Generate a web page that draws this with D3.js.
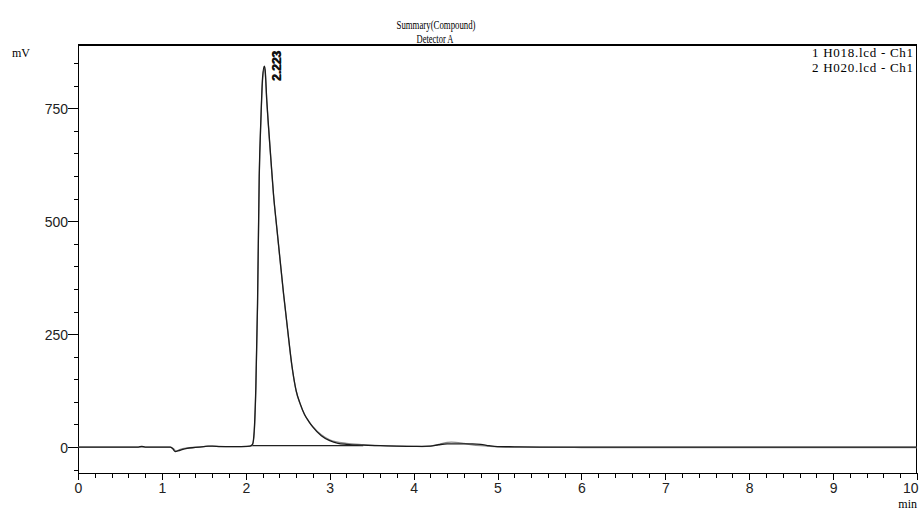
<!DOCTYPE html>
<html>
<head>
  <meta charset="utf-8">
  <title>Summary(Compound)</title>
  <script src="https://d3js.org/d3.v7.min.js"></script>
  <style>
    body { margin: 0; background: #fff; }
    .serif { font-family: "Liberation Serif", "Times New Roman", serif; fill: #000; }
    .tick-label { font-family: "Liberation Sans", Arial, sans-serif; font-size: 14px; fill: #222; }
    .frame { fill: none; stroke: #000; shape-rendering: crispEdges; }
    .trace { fill: none; stroke-width: 1.3px; stroke-linejoin: round; }
  </style>
</head>
<body>
  <script>
    // retention time (min) and signal (mV)
    var time1 = [0, 0.5, 0.72, 0.76, 0.8, 1.0, 1.1, 1.13, 1.16, 1.2, 1.25, 1.3, 1.4, 1.5, 1.55, 1.6, 1.7, 1.9, 2.0, 2.05,
                 2.08, 2.1, 2.12, 2.14, 2.16, 2.18, 2.2, 2.22, 2.23, 2.25, 2.27, 2.3, 2.33, 2.37, 2.41, 2.45, 2.5, 2.55, 2.6,
                 2.65, 2.7, 2.75, 2.8, 2.9, 3.0, 3.1, 3.2, 3.4, 3.6, 3.8, 4.0, 4.2, 4.3, 4.4, 4.5, 4.6, 4.7, 4.8, 4.9,
                 5.0, 5.2, 5.5, 6, 7, 8, 9, 10];
    var signal1 = [0, 0, 0, 1.5, 0, 0, 0, -4, -10, -8, -5, -3, -1, 1, 2, 2, 1, 1, 1.5, 2,
                   6, 35, 135, 320, 600, 726, 818, 843, 836, 768, 712, 635, 560, 485, 412, 340, 258, 180, 125,
                   95, 72, 57, 44, 25, 14, 8, 6, 4, 3, 2, 1.5, 2, 5, 7, 7, 7, 7, 6, 3,
                   1, 0.5, 0, 0, 0, 0, 0, 0];

    var time2 = [0, 0.7, 1.0, 1.1, 1.14, 1.17, 1.22, 1.3, 1.5, 1.6, 1.8, 2.0, 2.05,
                 2.08, 2.1, 2.12, 2.14, 2.16, 2.18, 2.2, 2.22, 2.23, 2.25, 2.27, 2.3, 2.33, 2.37, 2.41, 2.45, 2.5, 2.55, 2.6,
                 2.65, 2.7, 2.75, 2.8, 2.9, 3.0, 3.2, 3.4, 3.6, 3.8, 4.0, 4.1, 4.2, 4.3, 4.4, 4.45, 4.5, 4.6, 4.7, 4.8,
                 4.9, 5.0, 5.3, 6, 7, 8, 9, 10];
    var signal2 = [0, 0, 0, 0, -4, -9, -5, -2, 1, 2, 1, 1, 2,
                   5, 30, 128, 312, 592, 722, 812, 838, 831, 764, 709, 632, 558, 483, 410, 338, 256, 178, 124,
                   94, 72, 57, 45, 27, 16, 8, 5, 3, 2, 1.5, 1, 2, 6, 10, 11, 10.5, 8, 5, 3,
                   1.5, 0.5, 0, -1, -1, -1, -1, -1];

    // integration baseline drawn under the main peak
    var peakBaseTime = [2.07, 3.4];
    var peakBaseSignal = [3, 3];

    var seriesNames = ["1 H018.lcd - Ch1", "2 H020.lcd - Ch1"];
    var seriesColors = ["#1a1a1a", "#8c8c8c"];
    var peakTimes = [2.223, 2.223];
    var peakLabels = ["2.223", "2.223"];

    var xTicks = [0, 1, 2, 3, 4, 5, 6, 7, 8, 9, 10];
    var yTicks = [0, 250, 500, 750];

    var width = 919, height = 510;
    var plotLeft = 78, plotRight = 917, plotTop = 45, plotBottom = 473;

    var x = d3.scaleLinear().domain([0, 10]).range([plotLeft, plotRight]);
    var y = d3.scaleLinear().domain([-57.5, 890]).range([plotBottom, plotTop]);

    var svg = d3.select("body").append("svg")
        .attr("width", width)
        .attr("height", height);

    // frame: top and right border
    svg.append("line").attr("class", "frame")
        .attr("x1", plotLeft).attr("x2", plotRight).attr("y1", plotTop).attr("y2", plotTop)
        .attr("stroke-width", 2);
    svg.append("line").attr("class", "frame")
        .attr("x1", plotRight - 0.5).attr("x2", plotRight - 0.5).attr("y1", plotTop).attr("y2", plotBottom);

    // x axis
    var xAxis = d3.axisBottom(x).tickValues(xTicks).tickSize(7).tickSizeOuter(0).tickFormat(d3.format("d"));
    var gx = svg.append("g")
        .attr("transform", "translate(0," + plotBottom + ")")
        .call(xAxis);
    gx.select(".domain").attr("stroke", "#000").attr("shape-rendering", "crispEdges");
    gx.selectAll(".tick line").attr("stroke", "#000").attr("shape-rendering", "crispEdges");
    gx.selectAll(".tick text").attr("class", "tick-label").attr("y", 10).attr("dy", "0.71em")
        .attr("font-size", null).attr("font-family", null)
        .attr("text-anchor", function(d) { return d === 10 ? "end" : "middle"; })
        .attr("x", function(d) { return d === 10 ? 1 : 0; });

    var xMinor = d3.range(0, 50).map(function(i) { return i * 0.2; }).filter(function(v) { return Math.abs(v - Math.round(v)) > 1e-6; });
    svg.append("g").selectAll("line").data(xMinor).join("line")
        .attr("class", "frame")
        .attr("x1", function(d) { return Math.round(x(d)) + 0.5; })
        .attr("x2", function(d) { return Math.round(x(d)) + 0.5; })
        .attr("y1", plotBottom).attr("y2", plotBottom + 5);

    // y axis
    var yAxis = d3.axisLeft(y).tickValues(yTicks).tickSize(10).tickSizeOuter(0).tickFormat(d3.format("d"));
    var gy = svg.append("g")
        .attr("transform", "translate(" + plotLeft + ",0)")
        .call(yAxis);
    gy.select(".domain").attr("stroke", "#000").attr("shape-rendering", "crispEdges");
    gy.selectAll(".tick line").attr("stroke", "#000").attr("shape-rendering", "crispEdges");
    gy.selectAll(".tick text").attr("class", "tick-label").attr("x", -10).attr("dy", "0.36em")
        .attr("font-size", null).attr("font-family", null);

    var yMinor = d3.range(-50, 900, 50).filter(function(v) { return v % 250 !== 0; });
    svg.append("g").selectAll("line").data(yMinor).join("line")
        .attr("class", "frame")
        .attr("x1", plotLeft - 4).attr("x2", plotLeft)
        .attr("y1", function(d) { return Math.round(y(d)) + 0.5; })
        .attr("y2", function(d) { return Math.round(y(d)) + 0.5; });

    // axis units
    svg.append("text").attr("class", "serif").attr("x", 12).attr("y", 57)
        .attr("font-size", 12).text("mV");
    svg.append("text").attr("class", "serif").attr("x", plotRight).attr("y", 508)
        .attr("text-anchor", "end").attr("font-size", 12).text("min");

    // title
    svg.append("text").attr("class", "serif").attr("x", 436).attr("y", 29)
        .attr("text-anchor", "middle").attr("font-size", 13)
        .attr("textLength", 79).attr("lengthAdjust", "spacingAndGlyphs")
        .text("Summary(Compound)");
    svg.append("text").attr("class", "serif").attr("x", 435).attr("y", 43)
        .attr("text-anchor", "middle").attr("font-size", 13)
        .attr("textLength", 37).attr("lengthAdjust", "spacingAndGlyphs")
        .text("Detector A");

    // legend
    svg.append("g").selectAll("text").data(seriesNames).join("text")
        .attr("class", "serif")
        .attr("x", 913)
        .attr("y", function(d, i) { return 57 + i * 15; })
        .attr("text-anchor", "end")
        .attr("font-size", 13)
        .attr("textLength", 101).attr("lengthAdjust", "spacing")
        .text(function(d) { return d; });

    // traces
    var line = d3.line()
        .curve(d3.curveMonotoneX)
        .x(function(d) { return x(d[0]); })
        .y(function(d) { return y(d[1]); });

    var traces = [d3.zip(time2, signal2), d3.zip(time1, signal1)];
    var traceColors = [seriesColors[1], seriesColors[0]];

    svg.append("path")
        .datum(d3.zip(peakBaseTime, peakBaseSignal))
        .attr("class", "trace")
        .attr("stroke", "#222")
        .attr("stroke-width", 1)
        .attr("d", line);

    svg.append("g").selectAll("path").data(traces).join("path")
        .attr("class", "trace")
        .attr("stroke", function(d, i) { return traceColors[i]; })
        .attr("d", line);

    // peak labels
    svg.append("g").selectAll("text").data(peakLabels).join("text")
        .attr("transform", function(d, i) {
          return "translate(" + (x(peakTimes[i]) + 16.5) + "," + (y(843) + 15 - i) + ") rotate(-90)";
        })
        .attr("font-family", "Liberation Sans, Arial, sans-serif")
        .attr("font-size", 12)
        .attr("font-weight", "bold")
        .attr("fill", "#111")
        .text(function(d) { return d; });
  </script>
</body>
</html>
